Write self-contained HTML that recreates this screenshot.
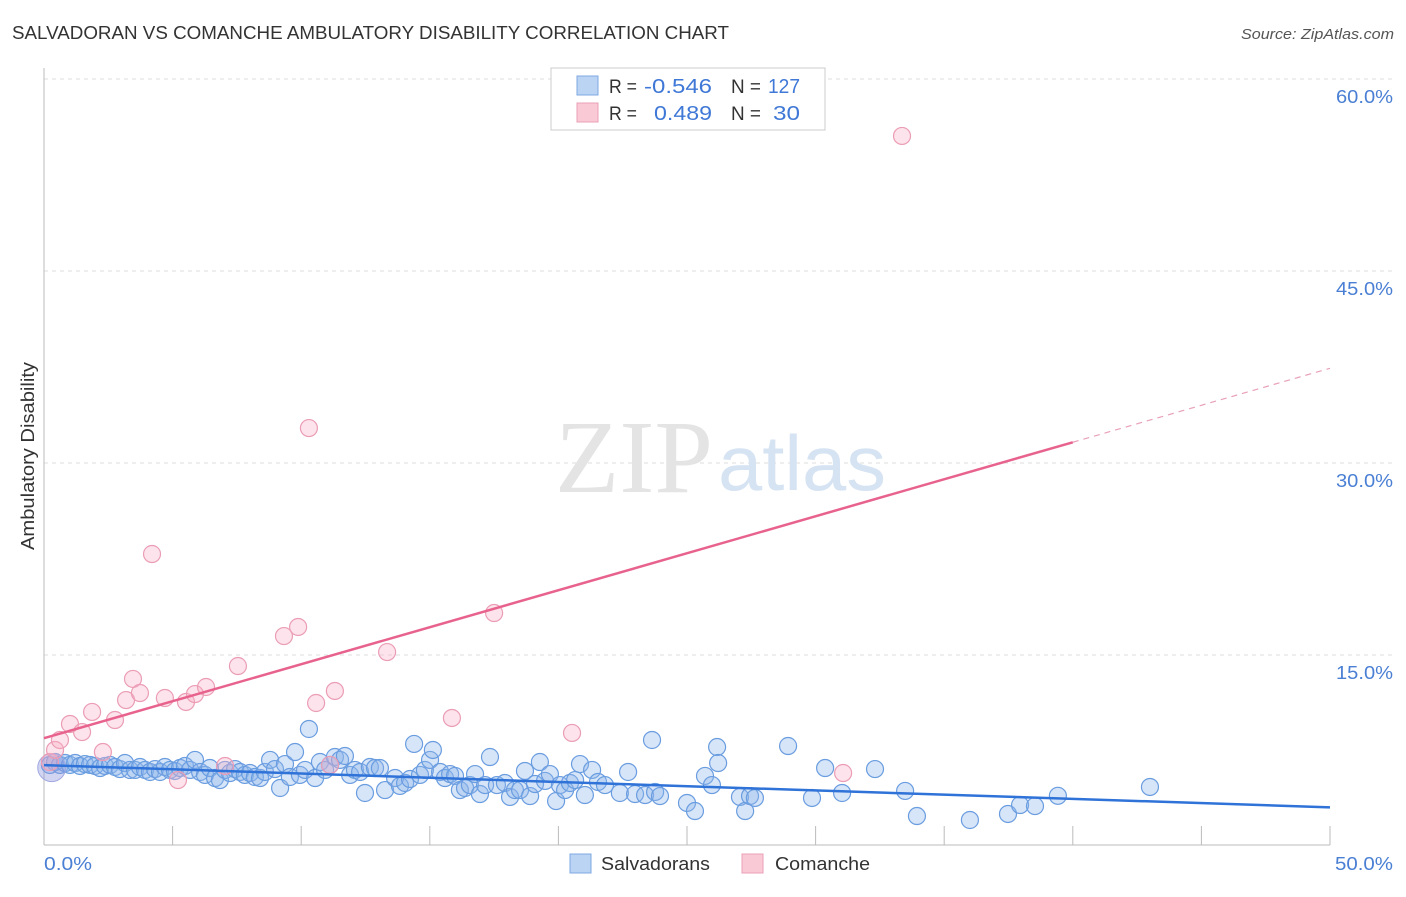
<!DOCTYPE html>
<html><head><meta charset="utf-8"><style>
body{margin:0;background:#fff;font-family:"Liberation Sans",sans-serif}
svg text{font-family:"Liberation Sans",sans-serif}
</style></head><body>
<svg id="chart" width="1406" height="892" viewBox="0 0 1406 892">
<text x="12" y="39" font-size="18" fill="#333" textLength="717" lengthAdjust="spacingAndGlyphs">SALVADORAN VS COMANCHE AMBULATORY DISABILITY CORRELATION CHART</text>
<text x="1394" y="39" font-size="15" fill="#555" font-style="italic" text-anchor="end" textLength="153" lengthAdjust="spacingAndGlyphs">Source: ZipAtlas.com</text>
<g id="grid"></g>
<g>
<text x="634" y="492" font-size="104" fill="#e4e4e4" text-anchor="middle" textLength="158" lengthAdjust="spacingAndGlyphs" style="font-family:'Liberation Serif',serif">ZIP</text>
<text x="802" y="490" font-size="78" fill="#d6e3f3" text-anchor="middle" textLength="168" lengthAdjust="spacingAndGlyphs">atlas</text>
</g>
<line x1="44" y1="68" x2="44" y2="845" stroke="#bbb"/>
<line x1="44" y1="845" x2="1330" y2="845" stroke="#bbb"/>
<g id="xticks"></g>
<g id="yticks"></g>
<text x="44" y="870" font-size="18" fill="#4a7fd4" textLength="48" lengthAdjust="spacingAndGlyphs">0.0%</text>
<text x="1393" y="870" font-size="18" fill="#4a7fd4" text-anchor="end" textLength="58" lengthAdjust="spacingAndGlyphs">50.0%</text>
<text transform="translate(34,456) rotate(-90)" font-size="18" fill="#333" text-anchor="middle" textLength="188" lengthAdjust="spacingAndGlyphs">Ambulatory Disability</text>
<g id="blue"></g>
<g id="pink"></g>
<g id="trends"></g>
<g>
<rect x="551" y="68" width="274" height="62" fill="#fff" stroke="#ccc"/>
<rect x="577" y="76" width="21" height="19" fill="#bcd4f3" stroke="#7ea8e0"/>
<rect x="577" y="103" width="21" height="19" fill="#f9c9d6" stroke="#eaa0b6"/>
<text x="609" y="93" font-size="19" fill="#333" textLength="28" lengthAdjust="spacingAndGlyphs">R =</text>
<text x="644" y="93" font-size="20" fill="#3f78d6" textLength="68" lengthAdjust="spacingAndGlyphs">-0.546</text>
<text x="731" y="93" font-size="19" fill="#333" textLength="30" lengthAdjust="spacingAndGlyphs">N =</text>
<text x="768" y="93" font-size="20" fill="#3f78d6" textLength="32" lengthAdjust="spacingAndGlyphs">127</text>
<text x="609" y="120" font-size="19" fill="#333" textLength="28" lengthAdjust="spacingAndGlyphs">R =</text>
<text x="654" y="120" font-size="20" fill="#3f78d6" textLength="58" lengthAdjust="spacingAndGlyphs">0.489</text>
<text x="731" y="120" font-size="19" fill="#333" textLength="30" lengthAdjust="spacingAndGlyphs">N =</text>
<text x="773" y="120" font-size="20" fill="#3f78d6" textLength="27" lengthAdjust="spacingAndGlyphs">30</text>
</g>
<g>
<rect x="570" y="854" width="21" height="19" fill="#bcd4f3" stroke="#7ea8e0"/>
<text x="601" y="870" font-size="18" fill="#333" textLength="109" lengthAdjust="spacingAndGlyphs">Salvadorans</text>
<rect x="742" y="854" width="21" height="19" fill="#f9c9d6" stroke="#eaa0b6"/>
<text x="775" y="870" font-size="18" fill="#333" textLength="95" lengthAdjust="spacingAndGlyphs">Comanche</text>
</g>
</svg>
<script>
const yTicks=[15,30,45,60];
const yTickLabels=["15.0%","30.0%","45.0%","60.0%"];
const xTicks=[0,5,10,15,20,25,30,35,40,45,50];
const blueX=[0.23,0.43,0.62,0.82,1.01,1.21,1.4,1.59,1.79,1.98,2.18,2.37,2.57,2.76,2.95,3.15,3.34,3.54,3.73,3.93,4.12,4.32,4.51,4.7,4.9,5.09,5.29,5.48,5.68,5.87,6.07,6.26,6.45,6.65,6.84,7.04,7.23,7.43,7.62,7.81,8.01,8.2,8.4,8.59,8.79,8.98,9.18,9.37,9.56,9.76,9.95,10.15,10.3,10.54,10.73,10.93,11.12,11.31,11.51,11.7,11.9,12.09,12.29,12.48,12.67,12.87,13.06,13.26,13.65,13.84,14.04,14.23,14.39,14.62,14.81,15.01,15.12,15.4,15.59,15.79,15.98,16.17,16.37,16.56,16.76,16.95,17.15,17.34,17.61,17.92,18.12,18.31,18.51,18.7,18.9,19.09,19.28,19.48,19.67,19.91,20.06,20.26,20.45,20.65,20.84,21.03,21.31,21.54,21.81,22.39,22.71,22.98,23.37,23.64,23.76,23.95,25.0,25.31,25.7,25.97,26.17,26.21,27.06,27.26,27.45,27.64,28.93,29.86,30.37,31.03,32.31,33.48,33.94,36.0,37.48,37.95,38.53,39.42,43.0];
const blueY=[6.41,6.64,6.41,6.56,6.41,6.56,6.33,6.48,6.41,6.33,6.17,6.33,6.41,6.25,6.09,6.56,6.02,6.02,6.25,6.02,5.86,6.09,5.86,6.25,6.02,5.94,6.17,6.33,6.02,6.8,5.86,5.63,6.17,5.39,5.23,6.02,5.78,6.09,5.86,5.63,5.78,5.47,5.39,5.86,6.8,6.09,4.61,6.48,5.47,7.42,5.63,6.02,9.22,5.39,6.64,6.02,6.41,7.03,6.8,7.11,5.63,6.02,5.86,4.22,6.25,6.17,6.17,4.45,5.39,4.77,5.0,5.31,8.05,5.63,6.02,6.8,7.58,5.86,5.39,5.7,5.55,4.45,4.61,4.84,5.7,4.14,4.84,7.03,4.84,5.0,3.91,4.45,4.45,5.94,3.98,4.92,6.64,5.16,5.7,3.59,4.84,4.45,5.0,5.23,6.48,4.06,6.02,5.08,4.84,4.22,5.86,4.14,4.06,8.36,4.3,3.98,3.44,2.81,5.55,4.84,7.81,6.56,3.91,2.81,3.98,3.83,7.89,3.83,6.17,4.22,6.09,4.38,2.42,2.11,2.58,3.28,3.2,4.0,4.69];
const pinkX=[0.23,0.43,0.62,1.01,1.48,1.87,2.29,2.76,3.19,3.46,3.73,4.2,4.7,5.21,5.52,5.87,6.3,7.04,7.54,9.33,9.88,10.3,10.58,11.12,11.31,13.34,15.86,17.5,20.53,31.07,33.36];
const pinkY=[6.64,7.58,8.36,9.61,8.98,10.55,7.42,9.92,11.48,13.13,12.03,22.89,11.64,5.23,11.33,11.95,12.5,6.33,14.14,16.48,17.19,32.73,11.25,6.41,12.19,15.23,10.08,18.28,8.91,5.78,55.55];
const blueTrend=[6.4,3.1];
const pinkTrend=[8.5,37.4];
const NS="http://www.w3.org/2000/svg";
const X=v=>44+v*25.72, Y=v=>847-v*12.8;
function mk(tag,attrs,parent){const e=document.createElementNS(NS,tag);for(const k in attrs)e.setAttribute(k,attrs[k]);parent.appendChild(e);return e;}
const grid=document.getElementById('grid'),yt=document.getElementById('yticks'),xt=document.getElementById('xticks');
yTicks.forEach((t,i)=>{
 const l=mk('line',{x1:44,x2:1394,y1:Y(t),y2:Y(t),stroke:'#ddd','stroke-dasharray':'4,4'},grid);
 
 
 const tx=mk('text',{x:1393,y:Y(t)+24,'font-size':18,fill:'#4a7fd4','text-anchor':'end',textLength:57,lengthAdjust:'spacingAndGlyphs'},yt);
 tx.textContent=yTickLabels[i];
 
 
});
xTicks.forEach(t=>{
 const l=mk('line',{x1:X(t),x2:X(t),y1:826,y2:845,stroke:'#bbb'},xt);
 
 
});
const bg=document.getElementById('blue'),pg=document.getElementById('pink');
blueX.forEach((x,i)=>{
 const c=mk('circle',{cx:X(x),cy:Y(blueY[i]),r:8.5,fill:'rgba(140,180,235,0.35)',stroke:'#6a9de0','stroke-width':1.2},bg);
 
 
});
pinkX.forEach((x,i)=>{
 const c=mk('circle',{cx:X(x),cy:Y(pinkY[i]),r:8.5,fill:'rgba(248,175,198,0.35)',stroke:'#eb9db5','stroke-width':1.2},pg);
 
 
});
const big=mk('circle',{cx:X(0.3),cy:Y(6.2),r:14,fill:'rgba(140,150,220,0.4)',stroke:'#a0a8e0'},bg);


const tg=document.getElementById('trends');
const bl=mk('line',{x1:X(0),y1:Y(blueTrend[0]),x2:X(50),y2:Y(blueTrend[1]),stroke:'#2f72d8','stroke-width':2.5},tg);


const pAt=v=>pinkTrend[0]+(pinkTrend[1]-pinkTrend[0])*v/50;
const pl=mk('line',{x1:X(0),y1:Y(pAt(0)),x2:X(40),y2:Y(pAt(40)),stroke:'#e8628e','stroke-width':2.5},tg);


const pd=mk('line',{x1:X(40),y1:Y(pAt(40)),x2:X(50),y2:Y(pAt(50)),stroke:'#e8a0b8','stroke-width':1.2,'stroke-dasharray':'6,5'},tg);


</script>
</body></html>
